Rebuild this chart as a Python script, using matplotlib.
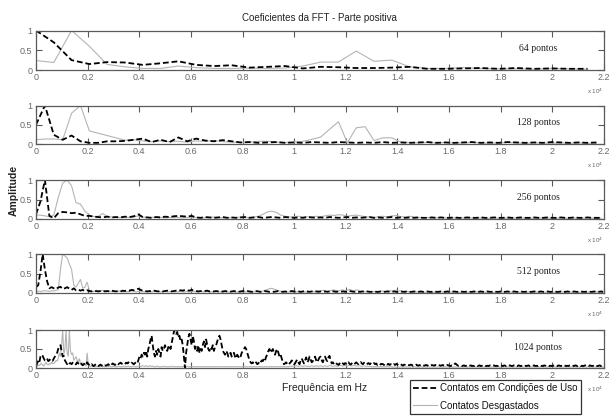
import numpy as np
import matplotlib
matplotlib.use("Agg")
import matplotlib.pyplot as plt

FS = 44100.0
panel_points = [64, 128, 256, 512, 1024]
panel_labels = ["64 pontos", "128 pontos", "256 pontos", "512 pontos", "1024 pontos"]
xtick_vals = [0, 0.2, 0.4, 0.6, 0.8, 1.0, 1.2, 1.4, 1.6, 1.8, 2.0, 2.2]
xtick_labels = ["0", "0.2", "0.4", "0.6", "0.8", "1", "1.2", "1.4", "1.6", "1.8", "2", "2.2"]
ytick_vals = [0, 0.5, 1]
ytick_labels = ["0", "0.5", "1"]
title = "Coeficientes da FFT - Parte positiva"
legend_labels = ["Contatos em Condições de Uso", "Contatos Desgastados"]

# ---- 64 pontos ----
uso_64 = [1.0,0.7,0.25,0.15,0.2,0.19,0.13,0.17,0.22,0.13,0.1,0.12,0.06,0.08,0.1,0.04,
          0.08,0.07,0.05,0.05,0.06,0.08,0.03,0.03,0.04,0.05,0.03,0.05,0.03,0.04,0.03,0.03]
desg_64 = [0.24,0.19,1.0,0.6,0.14,0.08,0.04,0.04,0.1,0.06,0.04,0.04,0.05,0.04,0.05,0.1,
           0.2,0.2,0.48,0.22,0.25,0.08,0.04,0.04,0.06,0.04,0.03,0.03,0.02,0.04,0.03,0.02]

# ---- 128 pontos ----
uso_128 = [0.5,1.0,0.24,0.11,0.22,0.07,0.03,0.03,0.07,0.07,0.08,0.11,0.14,0.05,0.11,0.05,
           0.17,0.07,0.14,0.09,0.07,0.1,0.07,0.04,0.05,0.03,0.04,0.05,0.03,0.04,0.03,0.05,
           0.04,0.03,0.05,0.04,0.03,0.04,0.03,0.05,0.03,0.04,0.03,0.04,0.05,0.03,0.04,0.03,
           0.04,0.05,0.03,0.04,0.03,0.05,0.04,0.03,0.04,0.03,0.05,0.04,0.03,0.04,0.03,0.04]
desg_128 = [0.11,0.13,0.13,0.11,0.8,1.0,0.34,0.28,0.22,0.16,0.1,0.11,0.08,0.06,0.08,0.06,
            0.07,0.05,0.08,0.07,0.09,0.06,0.05,0.04,0.05,0.07,0.07,0.05,0.04,0.05,0.07,0.12,
            0.18,0.38,0.58,0.03,0.42,0.45,0.09,0.16,0.16,0.05,0.04,0.03,0.04,0.03,0.04,0.03,
            0.03,0.04,0.03,0.02,0.03,0.04,0.03,0.02,0.03,0.03,0.02,0.03,0.02,0.03,0.02,0.02]

# ---- 256 pontos ----
uso_256 = [0.12,0.45,1.0,0.08,0.02,0.15,0.18,0.17,0.15,0.16,0.12,0.08,0.08,0.06,0.05,0.04,
           0.06,0.04,0.05,0.04,0.06,0.05,0.07,0.12,0.05,0.04,0.03,0.05,0.04,0.06,0.05,0.07,
           0.08,0.07,0.06,0.08,0.04,0.03,0.05,0.04,0.03,0.04,0.05,0.03,0.04,0.03,0.04,0.05,
           0.03,0.04,0.05,0.03,0.04,0.05,0.04,0.03,0.05,0.04,0.03,0.04,0.03,0.05,0.04,0.03,
           0.04,0.03,0.05,0.04,0.03,0.04,0.05,0.03,0.04,0.03,0.04,0.05,0.03,0.04,0.03,0.04,
           0.05,0.03,0.04,0.03,0.04,0.03,0.04,0.03,0.03,0.04,0.03,0.04,0.03,0.03,0.04,0.03,
           0.03,0.04,0.03,0.03,0.04,0.03,0.03,0.04,0.03,0.03,0.04,0.03,0.03,0.04,0.03,0.03,
           0.04,0.03,0.03,0.04,0.03,0.03,0.04,0.03,0.03,0.04,0.03,0.03,0.04,0.03,0.03,0.03]
desg_256 = [0.1,0.1,0.08,0.06,0.1,0.55,0.92,1.0,0.85,0.42,0.38,0.2,0.1,0.06,0.07,0.14,
            0.07,0.05,0.04,0.04,0.05,0.04,0.05,0.08,0.05,0.04,0.04,0.05,0.04,0.03,0.04,0.04,
            0.04,0.03,0.04,0.03,0.04,0.03,0.03,0.04,0.05,0.04,0.03,0.04,0.03,0.04,0.05,0.04,
            0.04,0.05,0.07,0.12,0.18,0.2,0.17,0.1,0.07,0.05,0.06,0.07,0.05,0.06,0.05,0.07,
            0.06,0.08,0.1,0.09,0.11,0.1,0.07,0.09,0.1,0.08,0.06,0.05,0.04,0.06,0.07,0.05,
            0.08,0.09,0.06,0.05,0.07,0.05,0.04,0.03,0.04,0.03,0.03,0.04,0.03,0.02,0.03,0.02,
            0.03,0.02,0.03,0.02,0.03,0.02,0.02,0.03,0.02,0.03,0.02,0.02,0.03,0.02,0.03,0.02,
            0.02,0.03,0.02,0.02,0.03,0.02,0.03,0.02,0.02,0.03,0.02,0.02,0.03,0.02,0.02,0.02]

# ---- 512 pontos ----
uso_512 = [0.15,0.2,0.55,1.0,0.6,0.3,0.12,0.15,0.12,0.1,0.14,0.16,0.1,0.12,0.15,0.11,
           0.08,0.12,0.07,0.09,0.06,0.08,0.05,0.07,0.05,0.04,0.06,0.05,0.04,0.05,0.06,0.04,
           0.05,0.04,0.06,0.05,0.04,0.05,0.04,0.06,0.05,0.07,0.06,0.08,0.07,0.09,0.11,0.08,
           0.06,0.05,0.04,0.05,0.04,0.06,0.05,0.04,0.05,0.04,0.05,0.06,0.05,0.04,0.05,0.06,
           0.05,0.07,0.06,0.08,0.07,0.06,0.08,0.06,0.05,0.04,0.05,0.04,0.05,0.06,0.04,0.05,
           0.04,0.05,0.04,0.03,0.04,0.05,0.04,0.03,0.04,0.05,0.04,0.03,0.04,0.05,0.04,0.05,
           0.04,0.03,0.04,0.05,0.04,0.03,0.04,0.05,0.04,0.03,0.04,0.03,0.04,0.05,0.04,0.03,
           0.04,0.03,0.04,0.05,0.04,0.03,0.04,0.03,0.04,0.05,0.04,0.03,0.04,0.03,0.04,0.03,
           0.04,0.03,0.04,0.03,0.04,0.05,0.04,0.03,0.04,0.03,0.04,0.03,0.04,0.05,0.04,0.03,
           0.04,0.03,0.03,0.04,0.03,0.04,0.03,0.03,0.04,0.03,0.03,0.04,0.03,0.03,0.04,0.03,
           0.03,0.04,0.03,0.03,0.04,0.03,0.03,0.04,0.03,0.03,0.04,0.03,0.03,0.04,0.03,0.03,
           0.04,0.03,0.03,0.04,0.03,0.03,0.04,0.03,0.03,0.04,0.03,0.03,0.04,0.03,0.03,0.04,
           0.03,0.03,0.04,0.03,0.03,0.04,0.03,0.03,0.04,0.03,0.03,0.04,0.03,0.03,0.04,0.03,
           0.03,0.04,0.03,0.03,0.04,0.03,0.03,0.04,0.03,0.03,0.04,0.03,0.03,0.04,0.03,0.03,
           0.04,0.03,0.03,0.04,0.03,0.03,0.04,0.03,0.03,0.04,0.03,0.03,0.04,0.03,0.03,0.04,
           0.03,0.03,0.04,0.03,0.03,0.04,0.03,0.03,0.04,0.03,0.03,0.04,0.03,0.03,0.04,0.03]
desg_512 = [0.03,0.05,0.04,0.05,0.06,0.05,0.04,0.06,0.05,0.07,0.08,0.6,1.0,0.95,0.9,0.75,
            0.6,0.2,0.15,0.25,0.35,0.12,0.15,0.28,0.06,0.05,0.04,0.05,0.06,0.05,0.07,0.05,
            0.04,0.05,0.04,0.03,0.04,0.05,0.04,0.03,0.04,0.03,0.04,0.05,0.04,0.03,0.04,0.03,
            0.04,0.03,0.04,0.03,0.03,0.04,0.03,0.04,0.03,0.03,0.04,0.03,0.03,0.04,0.03,0.03,
            0.03,0.04,0.03,0.03,0.04,0.03,0.03,0.04,0.03,0.03,0.04,0.03,0.03,0.04,0.03,0.03,
            0.03,0.04,0.03,0.03,0.02,0.03,0.03,0.02,0.03,0.03,0.02,0.03,0.03,0.02,0.03,0.03,
            0.03,0.02,0.03,0.03,0.04,0.03,0.05,0.07,0.09,0.11,0.12,0.1,0.08,0.06,0.04,0.03,
            0.03,0.02,0.03,0.03,0.02,0.03,0.03,0.02,0.03,0.03,0.02,0.03,0.04,0.03,0.05,0.06,
            0.05,0.07,0.06,0.04,0.05,0.07,0.08,0.06,0.05,0.07,0.08,0.06,0.07,0.09,0.07,0.05,
            0.08,0.07,0.05,0.04,0.03,0.04,0.03,0.03,0.04,0.03,0.03,0.04,0.05,0.04,0.05,0.06,
            0.05,0.06,0.07,0.05,0.06,0.04,0.05,0.04,0.03,0.03,0.02,0.03,0.02,0.02,0.03,0.02,
            0.02,0.03,0.02,0.02,0.03,0.02,0.02,0.03,0.02,0.02,0.03,0.02,0.02,0.03,0.02,0.02,
            0.03,0.02,0.02,0.03,0.02,0.02,0.03,0.02,0.02,0.03,0.02,0.02,0.03,0.02,0.02,0.03,
            0.02,0.02,0.03,0.02,0.02,0.03,0.02,0.02,0.03,0.02,0.02,0.03,0.02,0.02,0.03,0.02,
            0.02,0.03,0.02,0.02,0.03,0.02,0.02,0.03,0.02,0.02,0.03,0.02,0.02,0.03,0.02,0.02,
            0.03,0.02,0.02,0.03,0.02,0.02,0.03,0.02,0.02,0.03,0.02,0.02,0.03,0.02,0.02,0.02]

# ---- 1024 pontos ----
uso_1024 = [0.05,0.12,0.2,0.15,0.3,0.35,0.32,0.25,0.2,0.22,0.25,0.18,0.2,0.24,0.21,0.19,
            0.25,0.3,0.35,0.4,0.5,0.58,0.6,0.45,0.3,0.32,0.2,0.15,0.1,0.15,0.12,0.13,
            0.1,0.14,0.12,0.08,0.1,0.15,0.12,0.09,0.13,0.1,0.07,0.1,0.12,0.08,0.15,0.1,
            0.08,0.06,0.1,0.07,0.05,0.08,0.1,0.06,0.05,0.07,0.09,0.06,0.08,0.05,0.07,0.06,
            0.08,0.1,0.07,0.05,0.09,0.12,0.1,0.08,0.11,0.13,0.1,0.12,0.14,0.11,0.13,0.12,
            0.1,0.14,0.12,0.15,0.13,0.11,0.14,0.12,0.1,0.13,0.15,0.12,0.2,0.3,0.25,0.35,
            0.3,0.4,0.35,0.45,0.3,0.5,0.6,0.75,0.85,0.6,0.4,0.3,0.45,0.35,0.5,0.4,
            0.3,0.55,0.45,0.5,0.6,0.5,0.45,0.55,0.6,0.5,0.65,0.8,0.95,1.0,0.9,0.95,
            0.8,0.85,0.7,0.75,0.6,0.3,0.0,0.4,0.6,0.8,0.9,0.75,0.6,0.85,0.7,0.5,
            0.55,0.45,0.6,0.4,0.5,0.45,0.6,0.7,0.55,0.75,0.6,0.5,0.45,0.55,0.5,0.6,
            0.45,0.55,0.6,0.7,0.8,0.85,0.75,0.6,0.45,0.4,0.35,0.45,0.4,0.3,0.35,0.4,
            0.3,0.35,0.4,0.3,0.25,0.35,0.3,0.25,0.3,0.4,0.45,0.5,0.55,0.5,0.4,0.3,
            0.2,0.15,0.12,0.15,0.1,0.12,0.15,0.1,0.12,0.18,0.15,0.2,0.18,0.25,0.2,0.3,
            0.35,0.45,0.5,0.4,0.45,0.5,0.4,0.35,0.45,0.5,0.4,0.3,0.35,0.25,0.15,0.1,
            0.12,0.15,0.1,0.08,0.12,0.15,0.2,0.15,0.1,0.12,0.18,0.22,0.15,0.1,0.2,0.25,
            0.18,0.12,0.2,0.28,0.15,0.2,0.3,0.22,0.15,0.18,0.25,0.3,0.2,0.15,0.22,0.28,
            0.3,0.2,0.15,0.25,0.3,0.22,0.18,0.28,0.32,0.2,0.12,0.15,0.1,0.14,0.12,0.1,
            0.08,0.12,0.1,0.14,0.12,0.09,0.13,0.1,0.12,0.15,0.11,0.09,0.12,0.14,0.1,0.12,
            0.15,0.12,0.1,0.13,0.16,0.12,0.1,0.14,0.12,0.09,0.11,0.13,0.1,0.12,0.09,0.11,
            0.13,0.1,0.12,0.08,0.1,0.12,0.09,0.11,0.1,0.08,0.12,0.1,0.09,0.11,0.08,0.1,
            0.09,0.07,0.1,0.08,0.11,0.09,0.07,0.08,0.1,0.08,0.06,0.09,0.08,0.07,0.09,0.08,
            0.07,0.09,0.08,0.06,0.08,0.07,0.09,0.07,0.06,0.08,0.07,0.09,0.08,0.06,0.07,0.08,
            0.06,0.08,0.07,0.06,0.08,0.07,0.06,0.08,0.07,0.06,0.08,0.07,0.06,0.07,0.08,0.06,
            0.07,0.06,0.08,0.07,0.06,0.05,0.07,0.06,0.08,0.12,0.1,0.07,0.06,0.07,0.06,0.05,
            0.06,0.07,0.05,0.06,0.07,0.05,0.06,0.07,0.05,0.06,0.05,0.07,0.06,0.05,0.06,0.07,
            0.05,0.06,0.05,0.07,0.06,0.05,0.06,0.05,0.07,0.06,0.05,0.06,0.07,0.05,0.06,0.05,
            0.06,0.07,0.05,0.06,0.05,0.07,0.06,0.05,0.06,0.05,0.07,0.06,0.05,0.06,0.07,0.05,
            0.06,0.05,0.07,0.06,0.05,0.06,0.07,0.05,0.06,0.05,0.06,0.07,0.05,0.06,0.05,0.06,
            0.07,0.05,0.06,0.05,0.07,0.06,0.05,0.06,0.05,0.07,0.06,0.05,0.06,0.07,0.05,0.06,
            0.05,0.06,0.07,0.05,0.06,0.05,0.07,0.06,0.05,0.06,0.05,0.07,0.06,0.05,0.06,0.05,
            0.07,0.06,0.05,0.06,0.05,0.07,0.06,0.05,0.06,0.07,0.05,0.06,0.05,0.06,0.07,0.05,
            0.06,0.05,0.07,0.06,0.05,0.06,0.05,0.07,0.06,0.05,0.06,0.07,0.05,0.06,0.05,0.06]
desg_1024 = [0.02,0.05,0.08,0.06,0.1,0.12,0.08,0.05,0.1,0.15,0.1,0.08,0.12,0.1,0.15,0.12,
             0.12,0.15,0.2,0.18,0.25,0.4,0.3,0.6,1.0,0.35,0.5,1.0,0.4,0.3,1.0,0.45,
             0.35,0.4,0.2,0.25,0.3,0.2,0.15,0.25,0.12,0.1,0.15,0.08,0.1,0.05,0.4,0.08,
             0.05,0.04,0.06,0.03,0.05,0.04,0.03,0.05,0.04,0.03,0.04,0.05,0.03,0.04,0.03,0.05,
             0.04,0.03,0.05,0.04,0.03,0.04,0.05,0.03,0.04,0.03,0.05,0.04,0.03,0.04,0.03,0.05,
             0.04,0.03,0.04,0.05,0.03,0.04,0.03,0.04,0.05,0.04,0.03,0.04,0.05,0.06,0.04,0.05,
             0.06,0.05,0.04,0.06,0.05,0.04,0.05,0.06,0.04,0.05,0.04,0.03,0.04,0.05,0.04,0.03,
             0.04,0.03,0.04,0.05,0.03,0.04,0.03,0.04,0.03,0.04,0.05,0.03,0.04,0.03,0.04,0.03,
             0.04,0.03,0.03,0.04,0.03,0.04,0.03,0.03,0.04,0.03,0.04,0.03,0.03,0.04,0.03,0.04,
             0.03,0.03,0.04,0.03,0.04,0.03,0.03,0.04,0.03,0.04,0.03,0.03,0.04,0.03,0.04,0.03,
             0.03,0.04,0.03,0.04,0.03,0.03,0.04,0.03,0.04,0.03,0.03,0.04,0.03,0.04,0.03,0.03,
             0.04,0.03,0.04,0.03,0.03,0.04,0.03,0.04,0.03,0.03,0.04,0.03,0.04,0.03,0.03,0.04,
             0.03,0.04,0.03,0.03,0.04,0.03,0.04,0.03,0.03,0.04,0.03,0.04,0.03,0.03,0.04,0.03,
             0.04,0.03,0.03,0.04,0.03,0.04,0.03,0.03,0.04,0.03,0.04,0.03,0.03,0.04,0.03,0.04,
             0.03,0.03,0.04,0.03,0.04,0.05,0.04,0.05,0.04,0.05,0.06,0.05,0.04,0.05,0.06,0.05,
             0.04,0.05,0.06,0.05,0.04,0.05,0.04,0.05,0.06,0.05,0.04,0.05,0.06,0.05,0.04,0.05,
             0.06,0.05,0.04,0.05,0.06,0.05,0.04,0.05,0.06,0.07,0.05,0.04,0.05,0.06,0.05,0.04,
             0.05,0.06,0.07,0.06,0.05,0.06,0.07,0.06,0.05,0.06,0.07,0.06,0.05,0.06,0.07,0.06,
             0.05,0.06,0.05,0.06,0.05,0.04,0.05,0.06,0.05,0.04,0.05,0.04,0.05,0.04,0.03,0.04,
             0.03,0.04,0.03,0.04,0.03,0.03,0.04,0.03,0.04,0.03,0.03,0.04,0.03,0.04,0.03,0.03,
             0.03,0.02,0.03,0.03,0.02,0.03,0.03,0.02,0.03,0.03,0.02,0.03,0.03,0.02,0.03,0.03,
             0.02,0.03,0.03,0.02,0.03,0.03,0.02,0.03,0.03,0.02,0.03,0.03,0.02,0.03,0.03,0.02,
             0.03,0.03,0.02,0.03,0.03,0.02,0.03,0.03,0.02,0.03,0.03,0.02,0.03,0.03,0.02,0.03,
             0.03,0.02,0.03,0.03,0.02,0.03,0.03,0.02,0.03,0.03,0.02,0.03,0.03,0.02,0.03,0.03,
             0.02,0.03,0.03,0.02,0.03,0.03,0.02,0.03,0.03,0.02,0.03,0.03,0.02,0.03,0.03,0.02,
             0.03,0.03,0.02,0.03,0.03,0.02,0.03,0.03,0.02,0.03,0.03,0.02,0.03,0.03,0.02,0.03,
             0.03,0.02,0.03,0.03,0.02,0.03,0.03,0.02,0.03,0.03,0.02,0.03,0.03,0.02,0.03,0.03,
             0.02,0.03,0.03,0.02,0.03,0.03,0.02,0.03,0.03,0.02,0.03,0.03,0.02,0.03,0.03,0.02,
             0.03,0.03,0.02,0.03,0.03,0.02,0.03,0.03,0.02,0.03,0.03,0.02,0.03,0.03,0.02,0.03,
             0.03,0.02,0.03,0.03,0.02,0.03,0.03,0.02,0.03,0.03,0.02,0.03,0.03,0.02,0.03,0.03,
             0.02,0.03,0.03,0.02,0.03,0.03,0.02,0.03,0.03,0.02,0.03,0.03,0.02,0.03,0.03,0.02,
             0.03,0.03,0.02,0.03,0.03,0.02,0.03,0.03,0.02,0.03,0.03,0.02,0.03,0.03,0.02,0.03]

uso_series = [uso_64, uso_128, uso_256, uso_512, uso_1024]
desg_series = [desg_64, desg_128, desg_256, desg_512, desg_1024]

W, H = 609, 416
fig = plt.figure(figsize=(W / 100, H / 100), dpi=100)
fig.patch.set_facecolor("white")

# axes boxes in pixels: (top, bottom)
boxes = [(30.5, 70), (105.5, 144), (180, 219), (254, 293), (330, 368)]
left_px, right_px = 36, 604

tick_font = dict(family=["Liberation Sans Narrow", "Liberation Sans"], size=6.5, color="#6a6a6a")
frame_col = "#5a5a5a"

handles = None
for i, (top, bot) in enumerate(boxes):
    ax = fig.add_axes([left_px / W, 1 - bot / H, (right_px - left_px) / W, (bot - top) / H])
    n = panel_points[i]
    ud = np.array(uso_series[i])
    gd = np.array(desg_series[i])
    xu = np.arange(len(ud)) * FS / n
    xg = np.arange(len(gd)) * FS / n
    lg, = ax.plot(xg, gd, color="#b4b4b4", lw=0.8, solid_joinstyle="miter")
    lu, = ax.plot(xu, ud, color="black", lw=1.3, linestyle=(0, (3.2, 1.6)))
    handles = [lu, lg]
    ax.set_xlim(0, 22000)
    ax.set_ylim(0, 1)
    ax.set_xticks([v * 1e4 for v in xtick_vals])
    ax.set_xticklabels(xtick_labels, fontdict=tick_font)
    ax.set_yticks(ytick_vals)
    ax.set_yticklabels(ytick_labels, fontdict=tick_font)
    ax.tick_params(direction="in", length=4, width=0.8, color=frame_col,
                   top=True, right=True, pad=2.5)
    for s in ax.spines.values():
        s.set_color(frame_col)
        s.set_linewidth(0.9)
    ax.text(0.884, 0.55, panel_labels[i], transform=ax.transAxes, ha="center", va="center",
            family="Liberation Serif", fontsize=7, color="#222222")
    ax.annotate("x 10$^{4}$", xy=(1, 0), xycoords="axes fraction",
                xytext=(-6.5, -15.5), textcoords="offset points",
                ha="center", va="center", fontsize=4.5, color="#6a6a6a",
                family="Liberation Sans")

fig.text(319 / W, 1 - 18 / H, title, ha="center", va="center",
         family="Liberation Sans", fontsize=7, color="#222222")
fig.text(14 / W, 1 - 190 / H, "Amplitude", rotation=90, ha="center", va="center",
         family="Liberation Sans", fontsize=7.5, fontweight="bold", color="#222222")
fig.text(325 / W, 1 - 388 / H, "Frequência em Hz", ha="center", va="center",
         family="Liberation Sans", fontsize=7.5, color="#222222")

leg = fig.legend(handles, legend_labels, loc="upper left",
                 bbox_to_anchor=(410 / W, 1 - 380 / H), frameon=True, fancybox=False,
                 edgecolor="black", prop=dict(family="Liberation Sans", size=7),
                 handlelength=2.4, handletextpad=0.3, borderpad=0.35, labelspacing=0.75,
                 borderaxespad=0)
leg.get_frame().set_linewidth(0.9)
for t in leg.get_texts():
    t.set_color("#111111")

fig.savefig("out.png", dpi=100, facecolor="white")
